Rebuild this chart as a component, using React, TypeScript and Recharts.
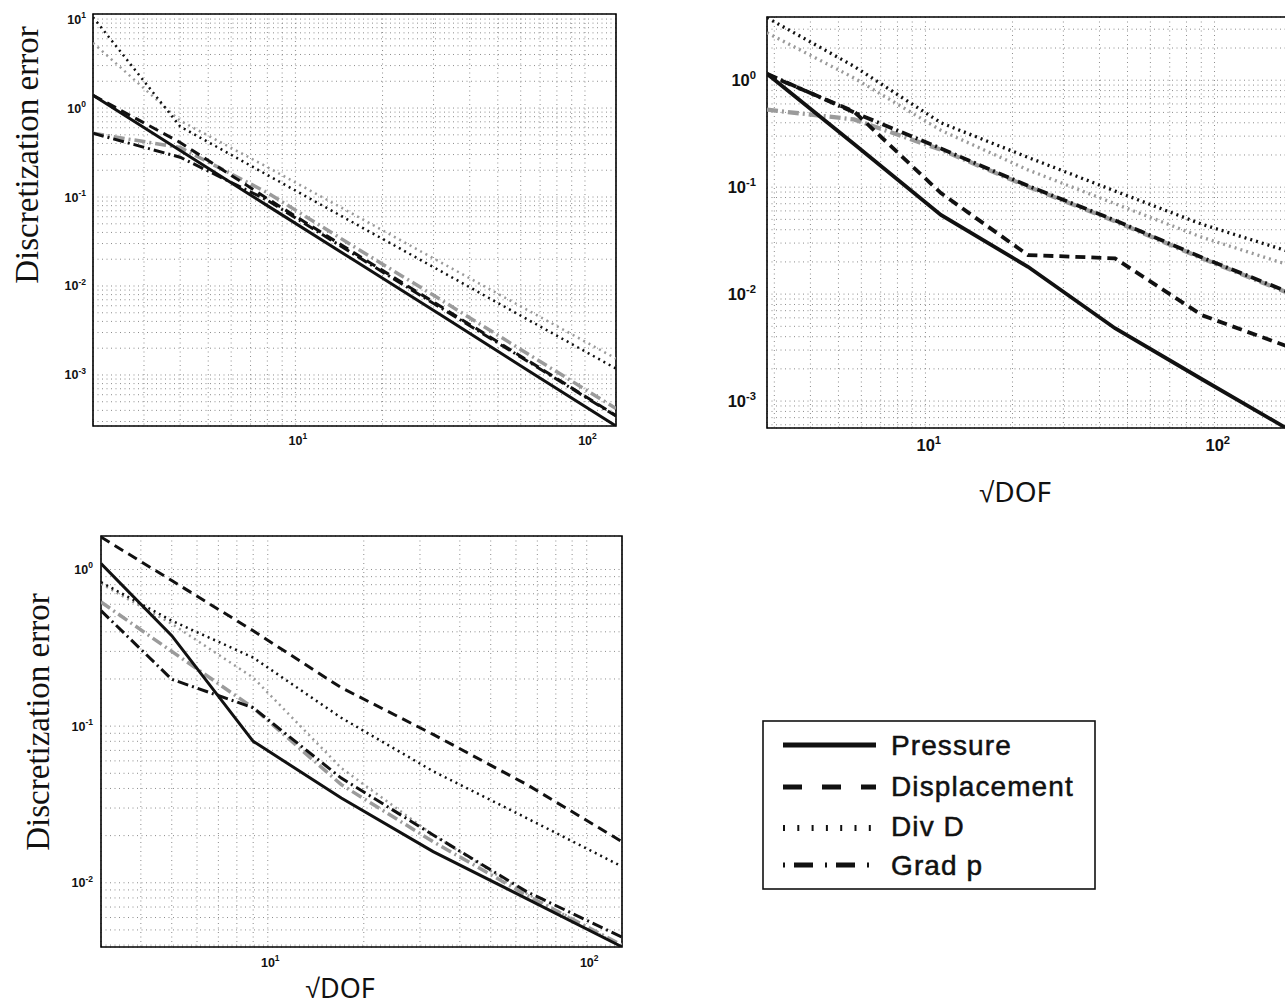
import React from "react"
import { CartesianGrid, Line, LineChart, ReferenceArea, XAxis, YAxis } from "recharts"

// sqrt(DOF) at each refinement level
const xTopLeft = [2, 4, 8, 16, 32, 64, 128]
const xTopRight = [2.83, 5.66, 11.31, 22.63, 45.25, 90.51, 181.02]
const xBottom = [3, 5, 9, 17, 33, 65, 129]

// top-left panel
const tlPressure = [1.39, 0.334, 0.08, 0.0193, 0.00465, 0.00111, 0.000267]
const tlDisplacement = [1.39, 0.41, 0.096, 0.0234, 0.0058, 0.00143, 0.00035]
const tlDivD = [10.5, 0.62, 0.177, 0.0506, 0.0145, 0.00413, 0.00118]
const tlDivDGrey = [5.4, 0.72, 0.217, 0.063, 0.0182, 0.00527, 0.00153]
const tlGradP = [0.52, 0.28, 0.092, 0.0225, 0.0056, 0.0014, 0.000345]
const tlGradPGrey = [0.52, 0.36, 0.112, 0.0275, 0.0069, 0.0017, 0.00042]

// top-right panel
const trPressure = [1.15, 0.253, 0.055, 0.018, 0.0048, 0.0016, 0.00054]
const trDisplacement = [1.13, 0.51, 0.088, 0.0232, 0.0216, 0.00635, 0.0032]
const trDivD = [3.84, 1.35, 0.4, 0.19, 0.092, 0.045, 0.025]
const trDivDGrey = [2.78, 1.05, 0.34, 0.145, 0.07, 0.034, 0.0187]
const trGradP = [1.15, 0.5, 0.23, 0.103, 0.049, 0.022, 0.0104]
const trGradPGrey = [0.53, 0.43, 0.224, 0.101, 0.048, 0.0216, 0.0102]

// bottom panel
const bPressure = [1.09, 0.378, 0.08, 0.0348, 0.0158, 0.0079, 0.0039]
const bDisplacement = [1.61, 0.85, 0.406, 0.176, 0.0885, 0.0423, 0.0183]
const bDivD = [0.83, 0.471, 0.274, 0.113, 0.0515, 0.0258, 0.0127]
const bDivDGrey = [0.81, 0.45, 0.204, 0.054, 0.0202, 0.0085, 0.0039]
const bGradP = [0.546, 0.199, 0.131, 0.0466, 0.0202, 0.00875, 0.0045]
const bGradPGrey = [0.62, 0.3, 0.131, 0.0423, 0.0183, 0.0083, 0.004]

const legendLabels = ["Pressure", "Displacement", "Div D", "Grad p"]

const GREY = "#9b9b9b"
const BLACK = "#111"

// all 1..9 x 10^k ticks inside [lo, hi]
function logTicks(lo: number, hi: number) {
  const out: number[] = []
  for (let e = Math.floor(Math.log10(lo)); e <= Math.ceil(Math.log10(hi)); e++) {
    for (let m = 1; m < 10; m++) {
      const v = +(m * Math.pow(10, e)).toPrecision(6)
      if (v >= lo * 0.9999 && v <= hi * 1.0001) out.push(v)
    }
  }
  return out
}

function isDecade(v: number) {
  const e = Math.log10(v)
  return Math.abs(e - Math.round(e)) < 1e-6
}

function LogTick(props: any) {
  const { x, y, payload, side, fs, gap } = props
  if (!isDecade(payload.value)) return <g />
  const e = Math.round(Math.log10(payload.value))
  const common = { fontFamily: "'Liberation Sans', Arial, sans-serif", fontWeight: 700, fill: "#111" }
  if (side === "x") {
    return (
      <text x={x + fs * 0.2} y={y + gap} textAnchor="middle" fontSize={fs} {...common}>
        <tspan>10</tspan>
        <tspan dy={-fs * 0.45} fontSize={fs * 0.68}>{e}</tspan>
      </text>
    )
  }
  return (
    <text x={x - gap} y={y + fs * 0.36} textAnchor="end" fontSize={fs} {...common}>
      <tspan>10</tspan>
      <tspan dy={-fs * 0.45} fontSize={fs * 0.68}>{e}</tspan>
    </text>
  )
}

type Series = { key: string; values: number[]; color: string; dash?: string; width: number }

function makeSeries(p: number[], d: number[], dv: number[], dvg: number[], g: number[], gg: number[], w: number): Series[] {
  return [
    { key: "divGrey", values: dvg, color: GREY, dash: "2 4", width: w - 0.5 },
    { key: "gradGrey", values: gg, color: GREY, dash: "11 4 2 4", width: w + 0.5 },
    { key: "divD", values: dv, color: BLACK, dash: "2 4", width: w - 0.5 },
    { key: "gradP", values: g, color: BLACK, dash: "11 4 2 4", width: w },
    { key: "displacement", values: d, color: BLACK, dash: "10 6", width: w },
    { key: "pressure", values: p, color: BLACK, width: w },
  ]
}

type PanelProps = {
  box: { x: number; y: number; w: number; h: number }
  xs: number[]
  series: Series[]
  xDomain: [number, number]
  yDomain: [number, number]
  fs: number
  xGap: number
  yGap: number
}

function Panel({ box, xs, series, xDomain, yDomain, fs, xGap, yGap }: PanelProps) {
  const rows = xs.map((x, i) => {
    const r: Record<string, number> = { x }
    series.forEach((s) => (r[s.key] = s.values[i]))
    return r
  })
  const yw = 70
  const xh = 50
  return (
    <div style={{ position: "absolute", left: box.x - yw, top: box.y - 10 }}>
      <LineChart width={yw + box.w + 10} height={10 + box.h + xh} data={rows} margin={{ top: 10, right: 10, bottom: 0, left: 0 }}>
        <CartesianGrid stroke="#8c8c8c" strokeDasharray="1 3.5" strokeWidth={1} />
        <XAxis
          dataKey="x"
          type="number"
          scale="log"
          domain={xDomain}
          allowDataOverflow
          ticks={logTicks(xDomain[0], xDomain[1])}
          interval={0}
          height={xh}
          tickSize={0}
          tickMargin={0}
          tickLine={false}
          axisLine={false}
          tick={(p: any) => <LogTick {...p} side="x" fs={fs} gap={xGap} />}
        />
        <YAxis
          type="number"
          scale="log"
          domain={yDomain}
          allowDataOverflow
          ticks={logTicks(yDomain[0], yDomain[1])}
          interval={0}
          width={yw}
          tickSize={0}
          tickMargin={0}
          tickLine={false}
          axisLine={false}
          tick={(p: any) => <LogTick {...p} side="y" fs={fs} gap={yGap} />}
        />
        {series.map((s) => (
          <Line
            key={s.key}
            dataKey={s.key}
            type="linear"
            stroke={s.color}
            strokeWidth={s.width}
            strokeDasharray={s.dash}
            dot={false}
            activeDot={false}
            isAnimationActive={false}
          />
        ))}
        <ReferenceArea
          x1={xDomain[0]}
          x2={xDomain[1]}
          y1={yDomain[0]}
          y2={yDomain[1]}
          fill="none"
          fillOpacity={0}
          stroke="#000"
          strokeWidth={1.6}
          ifOverflow="visible"
        />
      </LineChart>
    </div>
  )
}

const legendDash = [undefined, "19 20", "2 12.3", "2 9 19 12"]
const legendWidth = [5, 5, 6, 5]

function Overlay() {
  const serif = "'Liberation Serif', 'Times New Roman', serif"
  const sans = "'Noto Sans', 'Liberation Sans', sans-serif"
  return (
    <svg width={1285} height={1008} style={{ position: "absolute", left: 0, top: 0, pointerEvents: "none" }}>
      <text transform="translate(38,155) rotate(-90)" textAnchor="middle" fontFamily={serif} fontSize={33} fill="#111">
        Discretization error
      </text>
      <text transform="translate(49,722) rotate(-90)" textAnchor="middle" fontFamily={serif} fontSize={33} fill="#111">
        Discretization error
      </text>
      <text x={1015} y={502} textAnchor="middle" fontFamily={sans} fontSize={28} fill="#111">
        √DOF
      </text>
      <text x={340} y={998} textAnchor="middle" fontFamily={sans} fontSize={27} fill="#111">
        √DOF
      </text>
      <rect x={763} y={721} width={332} height={168} fill="#fff" stroke="#111" strokeWidth={1.6} />
      {legendLabels.map((label, i) => {
        const ly = [745, 787, 828, 865][i]
        const ty = [755, 796, 836, 875][i]
        return (
          <g key={label}>
            <line x1={783} x2={876} y1={ly} y2={ly} stroke="#111" strokeWidth={legendWidth[i]} strokeDasharray={legendDash[i]} />
            <text
              x={891}
              y={ty}
              fontFamily="'Liberation Sans', Arial, sans-serif"
              fontSize={28}
              letterSpacing={1.1}
              fill="#111"
              stroke="#111"
              strokeWidth={0.5}
            >
              {label}
            </text>
          </g>
        )
      })}
    </svg>
  )
}

export default function App() {
  return (
    <div style={{ position: "absolute", left: 0, top: 0, width: 1285, height: 1008, overflow: "hidden", background: "#fff" }}>
      <Panel
        box={{ x: 93, y: 14, w: 523, h: 412 }}
        xs={xTopLeft}
        series={makeSeries(tlPressure, tlDisplacement, tlDivD, tlDivDGrey, tlGradP, tlGradPGrey, 3)}
        xDomain={[2, 128]}
        yDomain={[0.000267, 11.4]}
        fs={12.5}
        xGap={19}
        yGap={7}
      />
      <Panel
        box={{ x: 767, y: 17, w: 522, h: 411 }}
        xs={xTopRight}
        series={makeSeries(trPressure, trDisplacement, trDivD, trDivDGrey, trGradP, trGradPGrey, 3.8)}
        xDomain={[2.83, 181.02]}
        yDomain={[0.00056, 3.9]}
        fs={16.5}
        xGap={23}
        yGap={11}
      />
      <Panel
        box={{ x: 101, y: 536, w: 521, h: 411 }}
        xs={xBottom}
        series={makeSeries(bPressure, bDisplacement, bDivD, bDivDGrey, bGradP, bGradPGrey, 3)}
        xDomain={[3, 129]}
        yDomain={[0.00389, 1.636]}
        fs={12.5}
        xGap={20}
        yGap={8}
      />
      <Overlay />
    </div>
  )
}
